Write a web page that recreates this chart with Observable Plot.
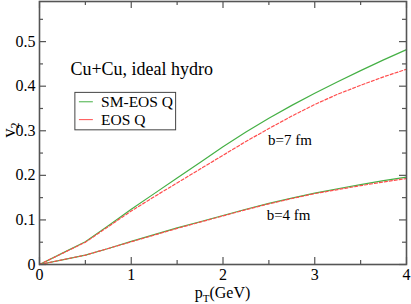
<!DOCTYPE html>
<html><head><meta charset="utf-8">
<script src="https://cdn.jsdelivr.net/npm/d3@7"></script>
<script src="https://cdn.jsdelivr.net/npm/@observablehq/plot@0.6"></script>
<style>body{margin:0;background:#fff}</style>
</head><body><div id="chart"></div>
<script>
// Data
const pT = [0, 0.25, 0.5, 0.75, 1, 1.25, 1.5, 1.75, 2, 2.25, 2.5, 2.75, 3, 3.25, 3.5, 3.75, 4];
const smEosB7 = [0, 0.0255, 0.051, 0.087, 0.124, 0.159, 0.194, 0.229, 0.264, 0.297, 0.328, 0.357, 0.384, 0.410, 0.435, 0.459, 0.482];
const eosB7   = [0, 0.025, 0.050, 0.085, 0.120, 0.152, 0.183, 0.214, 0.245, 0.276, 0.305, 0.333, 0.359, 0.382, 0.402, 0.421, 0.438];
const smEosB4 = [0, 0.0105, 0.021, 0.036, 0.052, 0.067, 0.082, 0.096, 0.110, 0.124, 0.137, 0.149, 0.160, 0.170, 0.179, 0.188, 0.196];
const eosB4   = [0, 0.0105, 0.021, 0.036, 0.051, 0.066, 0.081, 0.095, 0.109, 0.123, 0.136, 0.148, 0.159, 0.168, 0.177, 0.185, 0.193];
const xMajor = [0, 1, 2, 3, 4];
const xMinor = [0.5, 1.5, 2.5, 3.5];
const yMajor = [0, 0.1, 0.2, 0.3, 0.4, 0.5];
const yMinor = [0.05, 0.15, 0.25, 0.35, 0.45, 0.55];
const seriesNames = ["SM-EOS Q", "EOS Q"];
const title = "Cu+Cu, ideal hydro";
const labelsB = ["b=7 fm", "b=4 fm"];

const W = 411, H = 304, mL = 39, mR = 5, mT = 1, mB = 40;
const iw = W - mL - mR, ih = H - mT - mB;
const green = "#45b045", red = "#ff4d4d";
const font = "Liberation Serif, Times New Roman, serif";

const mk = (ys) => pT.map((x, i) => ({x, y: ys[i]}));
const major = 7, minor = 4;

const legend = [
  {name: seriesNames[0], color: green, dash: null, y: 0.365},
  {name: seriesNames[1], color: red, dash: "3,2", y: 0.325}
];

const plot = Plot.plot({
  width: W, height: H,
  marginLeft: mL, marginRight: mR, marginTop: mT, marginBottom: mB,
  style: {fontFamily: font, background: "#fff"},
  x: {domain: [0, 4]},
  y: {domain: [0, 0.59]},
  marks: [
    // data lines
    Plot.line(mk(smEosB7), {x: "x", y: "y", stroke: green, strokeWidth: 1.2}),
    Plot.line(mk(eosB7), {x: "x", y: "y", stroke: red, strokeWidth: 1.2, strokeDasharray: "3,2"}),
    Plot.line(mk(smEosB4), {x: "x", y: "y", stroke: green, strokeWidth: 1.2}),
    Plot.line(mk(eosB4), {x: "x", y: "y", stroke: red, strokeWidth: 1.2, strokeDasharray: "3,2"}),
    // inward ticks
    Plot.ruleX(xMajor, {x: d => d, insetTop: ih - major, stroke: "#555", strokeWidth: 1.2}),
    Plot.ruleX(xMajor, {x: d => d, insetBottom: ih - major, stroke: "#555", strokeWidth: 1.2}),
    Plot.ruleX(xMinor, {x: d => d, insetTop: ih - minor, stroke: "#555", strokeWidth: 1.2}),
    Plot.ruleX(xMinor, {x: d => d, insetBottom: ih - minor, stroke: "#555", strokeWidth: 1.2}),
    Plot.ruleY(yMajor, {y: d => d, insetRight: iw - major, stroke: "#555", strokeWidth: 1.2}),
    Plot.ruleY(yMajor, {y: d => d, insetLeft: iw - major, stroke: "#555", strokeWidth: 1.2}),
    Plot.ruleY(yMinor, {y: d => d, insetRight: iw - minor, stroke: "#555", strokeWidth: 1.2}),
    Plot.ruleY(yMinor, {y: d => d, insetLeft: iw - minor, stroke: "#555", strokeWidth: 1.2}),
    // axes labels
    Plot.axisX({ticks: xMajor, tickSize: 0, tickPadding: 4, tickFormat: d => String(d), fontSize: 16, label: null, fill: "#000"}),
    Plot.axisY({ticks: yMajor, tickSize: 0, tickPadding: 4, tickFormat: d => String(d), fontSize: 16, label: null, fill: "#000"}),
    // annotations
    Plot.text([title], {x: 0.337, y: 0.438, text: d => d, textAnchor: "start", fontSize: 18, fill: "#000"}),
    Plot.text([labelsB[0]], {x: 2.73, y: 0.279, text: d => d, fontSize: 15, fill: "#000"}),
    Plot.text([labelsB[1]], {x: 2.715, y: 0.1097, text: d => d, fontSize: 15, fill: "#000"}),
    // legend
    Plot.rect([0], {x1: 0.391, x2: 1.489, y1: 0.301, y2: 0.385, fill: "#fff", stroke: "#444", strokeWidth: 1}),
    Plot.ruleY(legend, {y: "y", x1: 0.435, x2: 0.587, stroke: "color", strokeDasharray: "dash", strokeWidth: 1}),
    Plot.text(legend, {x: 0.671, y: "y", text: "name", textAnchor: "start", fontSize: 15.5, fill: "#000"}),
    Plot.frame({stroke: "#555", strokeWidth: 1.6})
  ]
});

const svg = d3.select(plot);
// x axis title with subscript
const xt = svg.append("text")
  .attr("x", mL + iw / 2).attr("y", 298)
  .attr("text-anchor", "middle").attr("font-family", font).attr("font-size", 16).attr("fill", "#000");
xt.append("tspan").text("p");
xt.append("tspan").attr("font-size", 11).attr("dy", 4).text("T");
xt.append("tspan").attr("dy", -4).text("(GeV)");
// y axis title with subscript
const yt = svg.append("text")
  .attr("transform", "translate(15,130) rotate(-90)")
  .attr("text-anchor", "middle").attr("font-family", font).attr("font-size", 18).attr("fill", "#000");
yt.append("tspan").text("v");
yt.append("tspan").attr("font-size", 12).attr("dy", 4).text("2");

document.getElementById("chart").appendChild(plot);
</script>
</body></html>
